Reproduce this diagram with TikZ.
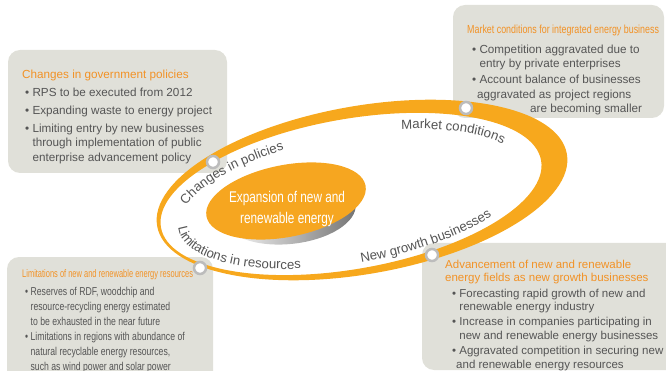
\documentclass[tikz,border=0pt]{standalone}
\usepackage{fontspec}
\setmainfont{Liberation Sans}
\newfontfamily\narrowfont[FakeStretch=0.76]{Liberation Sans}
\newfontfamily\tightfont[FakeStretch=0.68]{Liberation Sans}
\usetikzlibrary{decorations.text}

\definecolor{ringorange}{RGB}{247,168,29}
\definecolor{coreorange}{RGB}{246,166,32}
\definecolor{titleorange}{RGB}{242,146,38}
\definecolor{boxgray}{RGB}{224,224,217}
\definecolor{textgray}{RGB}{85,85,85}
\definecolor{dotgray}{RGB}{188,188,188}

\newcommand\ringfont{\fontsize{13.2}{13}\selectfont}
\newcommand\bul{\textbullet\ }
\newcommand\ind{\hphantom{\textbullet\ }}

\tikzset{
  box/.style={fill=boxgray, rounded corners=12pt},
  boxtext/.style={anchor=north west, inner sep=0pt, align=left, text=textgray},
  dot/.style={circle, draw=dotgray, line width=2.5pt, fill=white,
    minimum size=12pt, inner sep=0pt},
  ringlabel/.style={decorate, decoration={text along path, text align=center,
    text color=textgray, text={|\ringfont|#1}}}
}

\begin{document}
\begin{tikzpicture}[x=1pt,y=1pt]
  \useasboundingbox (0,0) rectangle (666,-371);

  % boxes
  \fill[box] (8,-50) rectangle (227,-173);
  \fill[box] (453,-5) rectangle (664,-118);
  \fill[box] (7,-257) rectangle (213,-385);
  \fill[box] (422,-243) rectangle (690,-370);

  % ring
  \begin{scope}[rotate around={10:(362,-190)}]
    \fill[ringorange, even odd rule] (362,-190) ellipse [x radius=208, y radius=84]
      (350.5,-192) ellipse [x radius=193, y radius=75];
  \end{scope}

  % core
  \shade[left color=white, right color=black!55, rotate around={6:(289,-211)}]
    (289,-211) ellipse [x radius=67, y radius=33];
  \fill[coreorange, rotate around={11:(286,-201)}]
    (286,-201) ellipse [x radius=81, y radius=36];
  \node[text=white, align=center, font=\narrowfont\fontsize{15.5}{21}\selectfont]
    (core) at (287,-209) {Expansion of new and\\renewable energy};

  % ring labels
  \begin{scope}[shift={(352,-199)}, rotate=10]
    \path[ringlabel=Changes in policies] (162:176 and 64)
      arc [start angle=162, end angle=108, x radius=176, y radius=64];
    \path[ringlabel=Market conditions] (72:176 and 64)
      arc [start angle=72, end angle=22, x radius=176, y radius=64];
    \path[ringlabel=Limitations in resources] (176:176 and 64)
      arc [start angle=176, end angle=250, x radius=176, y radius=64];
    \path[ringlabel=New growth businesses] (268:176 and 64)
      arc [start angle=268, end angle=322, x radius=176, y radius=64];
  \end{scope}

  % dots
  \node[dot] (policydot) at (213,-162) {};
  \node[dot] (marketdot) at (466,-108) {};
  \node[dot] (resourcedot) at (200,-268) {};
  \node[dot] (growthdot) at (432,-255) {};

  % texts
  \node[boxtext, font=\fontsize{11.7}{14.7}\selectfont] (policytext) at (22,-69.5) {%
    \textcolor{titleorange}{Changes in government policies}\\[4pt]
    \hspace{3pt}\bul RPS to be executed from 2012\\[3pt]
    \hspace{3pt}\bul Expanding waste to energy project\\[3pt]
    \hspace{3pt}\bul Limiting entry by new businesses\\
    \hspace{3pt}\ind through implementation of public\\
    \hspace{3pt}\ind enterprise advancement policy};
  \node[boxtext, font=\fontsize{11.7}{14.5}\selectfont] (markettext) at (467,-25) {%
    \textcolor{titleorange}{\narrowfont\fontsize{11.7}{14.5}\selectfont Market conditions for integrated energy business}\\[5pt]
    \hspace{5pt}\bul Competition aggravated due to\\
    \hspace{5pt}\ind entry by private enterprises\\[1.5pt]
    \hspace{5pt}\bul Account balance of businesses\\
    \hspace{10pt}aggravated as project regions\\
    \hspace{63pt}are becoming smaller};
  \node[boxtext, font=\narrowfont\fontsize{11.4}{15}\selectfont] (resourcetext) at (22,-269) {%
    \textcolor{titleorange}{\tightfont\fontsize{11}{15}\selectfont Limitations of new and renewable energy resources}\\[3pt]
    \hspace{3pt}\bul Reserves of RDF, woodchip and\\
    \hspace{3pt}\ind resource-recycling energy estimated\\
    \hspace{3pt}\ind to be exhausted in the near future\\
    \hspace{3pt}\bul Limitations in regions with abundance of\\
    \hspace{3pt}\ind natural recyclable energy resources,\\
    \hspace{3pt}\ind such as wind power and solar power};
  \node[boxtext, font=\fontsize{11.5}{13.8}\selectfont] (growthtext) at (445,-259.5) {%
    \textcolor{titleorange}{Advancement of new and renewable}\\
    \textcolor{titleorange}{energy fields as new growth businesses}\\[1.5pt]
    \hspace{7pt}\bul Forecasting rapid growth of new and\\
    \hspace{7pt}\ind renewable energy industry\\[1pt]
    \hspace{7pt}\bul Increase in companies participating in\\
    \hspace{7pt}\ind new and renewable energy businesses\\[1pt]
    \hspace{7pt}\bul Aggravated competition in securing new\\
    \hspace{7pt}\hphantom{\textbullet}and renewable energy resources};
\end{tikzpicture}
\end{document}
